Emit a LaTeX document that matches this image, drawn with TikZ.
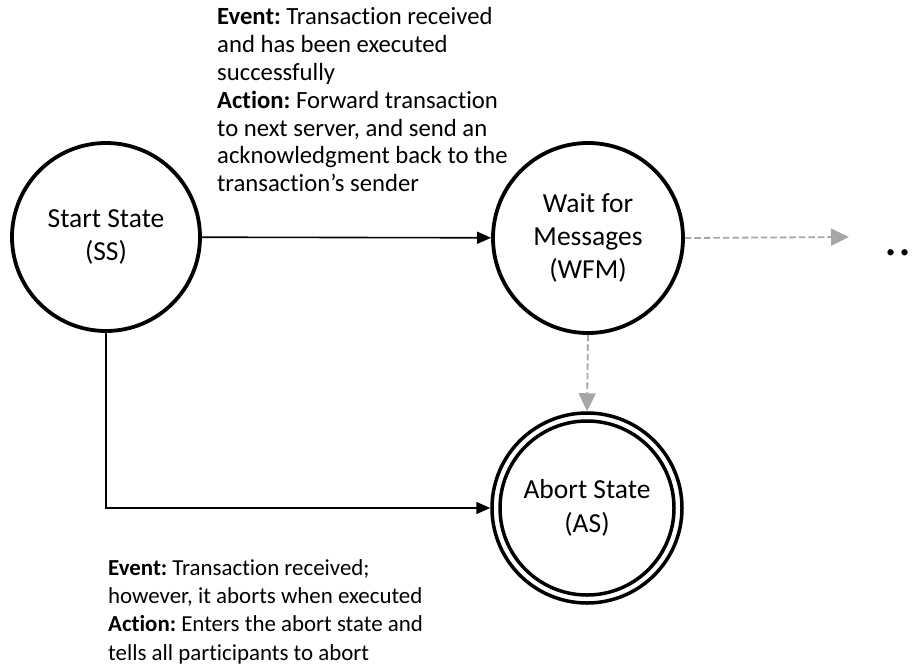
\documentclass[tikz,border=0pt]{standalone}
\usepackage{fontspec}
\setmainfont{Carlito}[Ligatures=NoCommon]
\frenchspacing
\usetikzlibrary{arrows.meta}
\tikzset{
  state/.style={circle, draw=black, line width=3.8pt, minimum size=188pt, inner sep=0pt,
    align=center, font=\fontsize{27.5}{33}\selectfont},
  finalstate/.style={circle, draw=black, line width=3.5pt, minimum size=190pt, inner sep=0pt,
    align=center, font=\fontsize{27.5}{34}\selectfont},
  note/.style={align=left, inner sep=0pt},
  edge/.style={line width=1.6pt, -{Triangle[length=14pt, width=12pt]}},
  pending/.style={draw=black!35, line width=1.8pt, dash pattern=on 6.5pt off 3pt,
    -{Triangle[length=18pt, width=17pt, fill=black!35]}},
}
\begin{document}
\begin{tikzpicture}[x=1pt, y=-1pt]
  \useasboundingbox (0,0) rectangle (917,667);

  % states
  \node[state] (SS) at (106,237) {Start State\\(SS)};
  \node[state, minimum size=190pt] (WFM) at (588,238) {Wait for\\Messages\\(WFM)};
  \node[finalstate] (AS) at (587,508) {Abort State\\(AS)};
  \draw[line width=3.5pt] (AS.center) circle (87pt);

  % continuation to the right
  \coordinate (next) at (849,237);
  \node[font=\fontsize{52}{52}\selectfont, anchor=base west, inner sep=0pt] (more) at (884,255) {.\kern1.5pt.};

  % transitions
  \draw[edge] (SS) -- (WFM);
  \draw[edge] (SS.south) |- (AS.west);
  \draw[pending] (WFM.east) -- (next);
  \draw[pending] (WFM.south) -- (AS.north);

  % transition annotations
  \node[note, anchor=north west, font=\fontsize{24.7}{27.8}\selectfont] (ev1) at (217,7.5)
    {\textbf{Event:} Transaction received\\
     and has been executed\\
     successfully\\
     \textbf{Action:} Forward transaction\\
     to next server, and send an\\
     acknowledgment back to the\\
     transaction’s sender};
  \node[note, anchor=north west, font=\fontsize{22.9}{28.3}\selectfont] (ev2) at (108,559)
    {\textbf{Event:} Transaction received;\\
     however, it aborts when executed\\
     \textbf{Action:} Enters the abort state and\\
     tells all participants to abort};
\end{tikzpicture}
\end{document}
